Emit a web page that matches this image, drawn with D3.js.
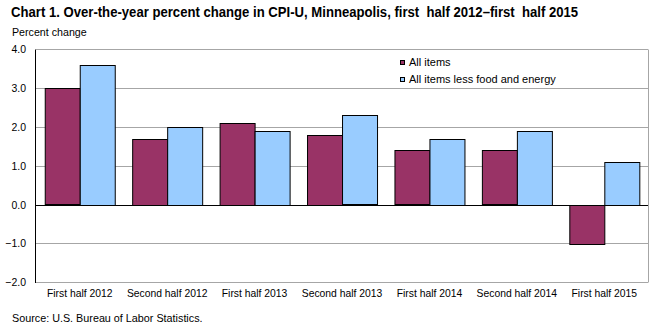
<!DOCTYPE html>
<html>
<head>
<meta charset="utf-8">
<script src="https://cdn.jsdelivr.net/npm/d3@7/dist/d3.min.js"></script>
<style>
  html, body { margin: 0; padding: 0; background: #fff; }
  svg { display: block; font-family: "Liberation Sans", Arial, sans-serif; }
</style>
</head>
<body>
<svg id="chart" width="659" height="326"></svg>
<script>
// Half-year periods shown along the x axis
const categories = [
  "First half 2012", "Second half 2012", "First half 2013", "Second half 2013",
  "First half 2014", "Second half 2014", "First half 2015"
];
// Over-the-year percent change, CPI-U Minneapolis
const allItems = [3.0, 1.7, 2.1, 1.8, 1.4, 1.4, -1.0];
const lessFoodEnergy = [3.6, 2.0, 1.9, 2.3, 1.7, 1.9, 1.1];
const seriesNames = ["All items", "All items less food and energy"];
const yTicks = [-2, -1, 0, 1, 2, 3, 4];

const colors = ["#993366", "#99ccff"];
const gridColor = "#a6a6a6";

const svg = d3.select("#chart");

// Compress text horizontally to mimic the narrow rendering of the original fonts
function squeeze(sel, factor) {
  sel.each(function () {
    const w = this.getComputedTextLength();
    this.setAttribute("textLength", (w * factor).toFixed(2));
    this.setAttribute("lengthAdjust", "spacingAndGlyphs");
  });
}

const plot = { left: 36, right: 648, top: 49.4, bottom: 282.3 };

const x = d3.scaleBand()
  .domain(categories)
  .range([plot.left, plot.right])
  .paddingInner(0.2)
  .paddingOuter(0.1);

const xInner = d3.scaleBand()
  .domain(d3.range(seriesNames.length))
  .range([0, x.bandwidth()]);

const y = d3.scaleLinear()
  .domain([d3.min(yTicks), d3.max(yTicks)])
  .range([plot.bottom, plot.top]);

// Title
svg.append("text")
  .attr("x", 11).attr("y", 17)
  .attr("font-size", 14).attr("font-weight", "bold")
  .attr("fill", "#000")
  .text("Chart 1. Over-the-year percent change in CPI-U, Minneapolis, first\u00a0 half 2012\u2013first\u00a0 half 2015")
  .call(squeeze, 0.937);

// Axis title
svg.append("text")
  .attr("x", 12).attr("y", 36)
  .attr("font-size", 11)
  .text("Percent change")
  .call(squeeze, 0.97);

// Horizontal gridlines (zero line drawn later in black)
svg.append("g")
  .selectAll("line")
  .data(yTicks.filter(d => d !== 0))
  .join("line")
  .attr("x1", plot.left).attr("x2", plot.right)
  .attr("y1", d => Math.round(y(d)) + 0.5)
  .attr("y2", d => Math.round(y(d)) + 0.5)
  .attr("stroke", gridColor).attr("stroke-width", 1);

// Right frame edge
svg.append("line")
  .attr("x1", plot.right + 0.5).attr("x2", plot.right + 0.5)
  .attr("y1", Math.round(y(4)) + 0.5).attr("y2", Math.round(y(-2)) + 0.5)
  .attr("stroke", gridColor);

// Y tick labels
svg.append("g")
  .selectAll("text")
  .data(yTicks)
  .join("text")
  .attr("x", 26)
  .attr("y", d => y(d))
  .attr("dy", "0.35em")
  .attr("text-anchor", "end")
  .attr("font-size", 11)
  .text(d => d3.format(".1f")(d))
  .call(squeeze, 0.95);

// Bars
const rows = categories.map((c, i) => ({ cat: c, values: [allItems[i], lessFoodEnergy[i]] }));
const groups = svg.append("g")
  .selectAll("g")
  .data(rows)
  .join("g")
  .attr("transform", d => `translate(${x(d.cat)},0)`);

groups.selectAll("rect")
  .data(d => d.values.map((v, k) => ({ v, k })))
  .join("rect")
  .attr("x", d => Math.round(xInner(d.k)) + 0.5)
  .attr("width", Math.round(xInner.bandwidth()))
  .attr("y", d => Math.round(y(Math.max(0, d.v))) + 0.5)
  .attr("height", d => Math.round(Math.abs(y(d.v) - y(0))))
  .attr("fill", d => colors[d.k])
  .attr("stroke", "#000").attr("stroke-width", 1);

// Zero line and left axis
svg.append("line")
  .attr("x1", plot.left).attr("x2", plot.right)
  .attr("y1", Math.round(y(0)) + 0.5).attr("y2", Math.round(y(0)) + 0.5)
  .attr("stroke", "#000");
svg.append("line")
  .attr("x1", plot.left - 0.5).attr("x2", plot.left - 0.5)
  .attr("y1", Math.round(y(4)) + 0.5).attr("y2", Math.round(y(-2)) + 1)
  .attr("stroke", "#000");

// Category labels
svg.append("g")
  .selectAll("text")
  .data(categories)
  .join("text")
  .attr("x", d => x(d) + x.bandwidth() / 2)
  .attr("y", 297)
  .attr("text-anchor", "middle")
  .attr("font-size", 11)
  .text(d => d)
  .call(squeeze, 0.94);

// Legend
const legend = svg.append("g")
  .selectAll("g")
  .data(seriesNames)
  .join("g")
  .attr("transform", (d, i) => `translate(400,${60 + i * 17})`);
legend.append("rect")
  .attr("x", 0.5).attr("y", 0.5)
  .attr("width", 4).attr("height", 4)
  .attr("fill", (d, i) => colors[i])
  .attr("stroke", "#000").attr("stroke-width", 1);
legend.append("text")
  .attr("x", 9).attr("y", 6)
  .attr("font-size", 11)
  .text(d => d)
  .call(squeeze, 1.0);

// Source note
svg.append("text")
  .attr("x", 12).attr("y", 322)
  .attr("font-size", 11)
  .text("Source: U.S. Bureau of Labor Statistics.")
  .call(squeeze, 0.98);
</script>
</body>
</html>
